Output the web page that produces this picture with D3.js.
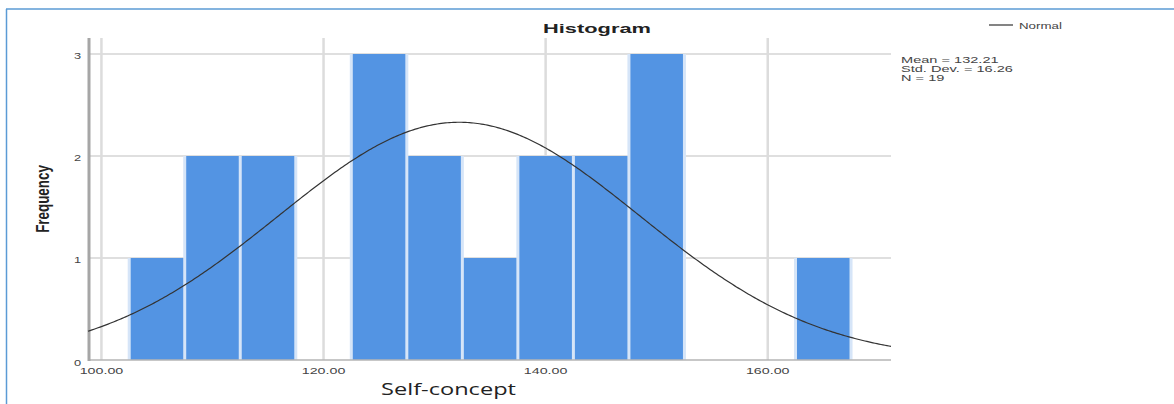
<!DOCTYPE html>
<html>
<head>
<meta charset="utf-8">
<script src="https://cdn.jsdelivr.net/npm/d3@7"></script>
<style>
html,body{margin:0;padding:0;background:#fff;}
svg{display:block;}
</style>
</head>
<body>
<svg id="chart" width="1174" height="404"></svg>
<script>
// ---- data ----
const binLower = [102.5,107.5,112.5,117.5,122.5,127.5,132.5,137.5,142.5,147.5,152.5,157.5,162.5];
const counts   = [1,2,2,0,3,2,1,2,2,3,0,0,1];
const binWidth = 5;
const xTicks = [100,120,140,160];
const xTickLabels = ["100.00","120.00","140.00","160.00"];
const yTicks = [0,1,2,3];
const yTickLabels = ["0","1","2","3"];
const statsMean = 132.21;
const statsSD = 16.26;
const statsN = 19;
const statsLines = ["Mean = 132.21","Std. Dev. = 16.26","N = 19"];
const legendLabel = "Normal";
const titleText = "Histogram";
const xLabel = "Self-concept";
const yLabel = "Frequency";

// ---- setup ----
const svg = d3.select("#chart");
const x = d3.scaleLinear().domain([98.79, 171.1]).range([88, 891]);
const y = d3.scaleLinear().domain([0, 3]).range([360, 54]);
const yTop = 38;
const SX = 1.5; // horizontal stretch of text

function stext(g, str, px, py, opts){
  const t = g.append("text")
    .attr("transform", `translate(${px},${py}) scale(${opts.sx||SX},1)` + (opts.rot?` rotate(${opts.rot})`:""))
    .attr("text-anchor", opts.anchor||"start")
    .attr("font-family", opts.family||"'Liberation Sans', Arial, sans-serif")
    .attr("font-size", opts.size||10)
    .attr("font-weight", opts.weight||"normal")
    .attr("fill", opts.fill||"#333")
    .text(str);
  return t;
}

// frame
svg.append("line").attr("x1",6).attr("x2",1174).attr("y1",9).attr("y2",9)
  .attr("stroke","#5b9bd5").attr("stroke-width",1.5);
svg.append("line").attr("x1",6.5).attr("x2",6.5).attr("y1",9).attr("y2",404)
  .attr("stroke","#5b9bd5").attr("stroke-width",1.5);

// horizontal grid
svg.append("g").selectAll("line").data(yTicks.filter(d=>d>0)).join("line")
  .attr("x1",90).attr("x2",891)
  .attr("y1",d=>y(d)).attr("y2",d=>y(d))
  .attr("stroke","#d4d4d4").attr("stroke-width",1.5);

// vertical grid
svg.append("g").selectAll("line").data(xTicks).join("line")
  .attr("x1",d=>x(d)).attr("x2",d=>x(d))
  .attr("y1",yTop).attr("y2",360)
  .attr("stroke","#dcdcdc").attr("stroke-width",2.5);

// bars
const bins = binLower.map((b,i)=>({x0:b, x1:b+binWidth, n:counts[i]})).filter(d=>d.n>0);
const gb = svg.append("g");
gb.selectAll("rect.edge").data(bins).join("rect").attr("class","edge")
  .attr("x",d=>x(d.x0)-1.5)
  .attr("width",d=>x(d.x1)-x(d.x0)+3)
  .attr("y",d=>y(d.n))
  .attr("height",d=>y(0)-y(d.n))
  .attr("fill","#d6e5f8");
gb.selectAll("rect.bar").data(bins).join("rect").attr("class","bar")
  .attr("x",d=>x(d.x0)+1.5)
  .attr("width",d=>x(d.x1)-x(d.x0)-3)
  .attr("y",d=>y(d.n))
  .attr("height",d=>y(0)-y(d.n))
  .attr("fill","#5394e3");

// axes lines
svg.append("line").attr("x1",88).attr("x2",891).attr("y1",360).attr("y2",360)
  .attr("stroke","#b4b4b4").attr("stroke-width",1.5);
svg.append("line").attr("x1",89).attr("x2",89).attr("y1",yTop).attr("y2",361)
  .attr("stroke","#a6a6a6").attr("stroke-width",3);

// normal curve
const [d0,d1] = x.domain();
const pts = d3.range(0,401).map(i=>d0+(d1-d0)*i/400);
const scaleF = statsN*binWidth/(statsSD*Math.sqrt(2*Math.PI));
const curve = d3.line()
  .x(d=>x(d))
  .y(d=>y(scaleF*Math.exp(-0.5*Math.pow((d-statsMean)/statsSD,2))));
svg.append("path").datum(pts).attr("d",curve)
  .attr("fill","none").attr("stroke","#333").attr("stroke-width",1.2);

// y tick labels
const gy = svg.append("g");
yTicks.forEach((t,i)=>{
  stext(gy, yTickLabels[i], 81, y(t)+ (t===0?6:5), {anchor:"end", size:9.5, sx:1.35, fill:"#444"});
});
// x tick labels
const gx = svg.append("g");
xTicks.forEach((t,i)=>{
  stext(gx, xTickLabels[i], x(t), 373.5, {anchor:"middle", size:9.5, sx:1.5, fill:"#444"});
});

// title
stext(svg, titleText, 597, 32.5, {anchor:"middle", size:13.4, weight:"bold", sx:1.63, fill:"#222"});

// y label
stext(svg, yLabel, 49, 199, {anchor:"middle", size:13.4, weight:"bold", sx:1.4, rot:-90, fill:"#222"});

// x label
stext(svg, xLabel, 448.5, 395, {anchor:"middle", size:16.5, family:"'Open Sans', sans-serif", sx:1.43, fill:"#222"});

// legend
svg.append("line").attr("x1",989).attr("x2",1013).attr("y1",25).attr("y2",25)
  .attr("stroke","#333").attr("stroke-width",1.2);
stext(svg, legendLabel, 1019, 28.5, {size:9, sx:1.48, fill:"#444"});

// stats
statsLines.forEach((s,i)=>{
  stext(svg, s, 901, 62.5 + i*9, {size:9, sx:1.62, fill:"#444"});
});
</script>
</body>
</html>
